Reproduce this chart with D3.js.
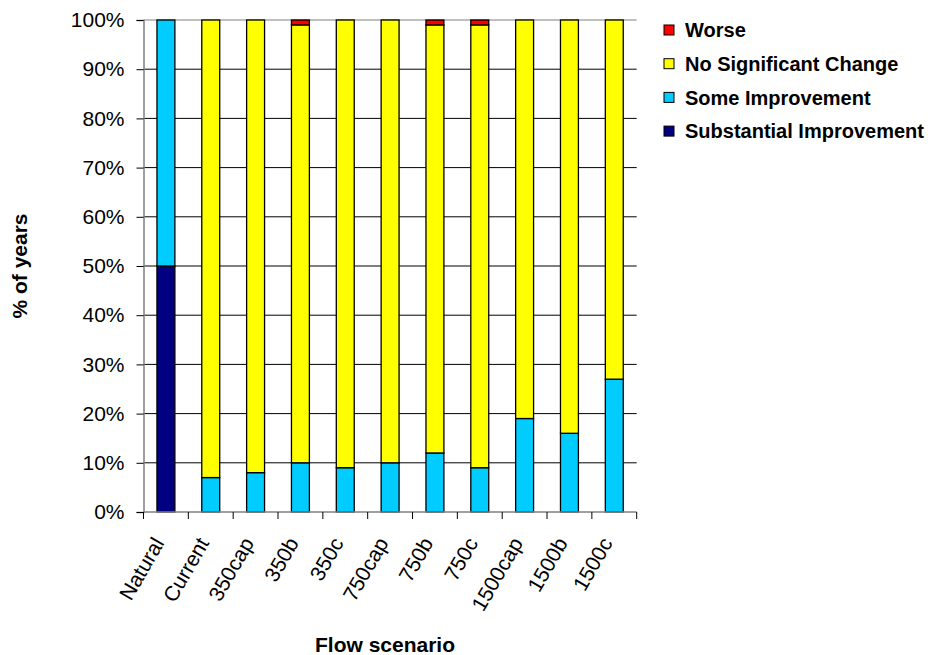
<!DOCTYPE html>
<html><head><meta charset="utf-8">
<script src="https://cdn.jsdelivr.net/npm/d3@7/dist/d3.min.js"></script>
<style>body{margin:0;background:#fff;font-family:"Liberation Sans",Arial,sans-serif;}</style>
</head><body><svg id="c" width="932" height="655"></svg>
<script>
const categories = ["Natural","Current","350cap","350b","350c","750cap","750b","750c","1500cap","1500b","1500c"];
const substantial = [50,0,0,0,0,0,0,0,0,0,0];
const some = [50,7,8,10,9,10,12,9,19,16,27];
const noChange = [0,93,92,89,91,90,87,90,81,84,73];
const worse = [0,0,0,1,0,0,1,1,0,0,0];
const yTicks = [0,10,20,30,40,50,60,70,80,90,100];
const seriesNames = ["Substantial Improvement","Some Improvement","No Significant Change","Worse"];
const seriesColors = ["#000080","#00CCFF","#FFFF00","#FF0000"];

const svg = d3.select("#c");
const m = {l:143.5, r:636.7, t:20, b:512};
const x = d3.scaleBand().domain(categories).range([m.l, m.r]).paddingInner(0).paddingOuter(0);
const y = d3.scaleLinear().domain([0,100]).range([m.b, m.t]);

// gridlines
svg.append("g").selectAll("line").data(yTicks.filter(d=>d>0)).join("line")
  .attr("x1", m.l).attr("x2", m.r).attr("y1", d=>y(d)).attr("y2", d=>y(d))
  .attr("stroke", d=> d===100 ? "#808080" : "#000").attr("stroke-width", 1);

// stacked data
const rows = categories.map((c,i)=>({cat:c, s0:substantial[i], s1:some[i], s2:noChange[i], s3:worse[i]}));
const stack = d3.stack().keys(["s0","s1","s2","s3"])(rows);
const bw = x.bandwidth()*0.4;
svg.append("g").selectAll("g").data(stack).join("g")
  .attr("fill", (d,i)=>seriesColors[i])
  .selectAll("rect").data(d=>d.filter(p=>p[1]-p[0]>0)).join("rect")
  .attr("x", d=>x(d.data.cat)+(x.bandwidth()-bw)/2)
  .attr("width", bw)
  .attr("y", d=>y(d[1]))
  .attr("height", d=>y(d[0])-y(d[1]))
  .attr("stroke","#000").attr("stroke-width",1.3);

// y axis
const ya = svg.append("g").attr("transform",`translate(${m.l},0)`)
  .call(d3.axisLeft(y).tickValues(yTicks).tickFormat(d=>d+"%").tickSize(7).tickPadding(12));
ya.select(".domain").attr("stroke","#808080").attr("stroke-width",1.5);
ya.selectAll(".tick line").attr("stroke","#000");
ya.selectAll("text").attr("font-size",21).attr("font-family","Liberation Sans, Arial, sans-serif").attr("fill","#000");

// x axis
const xa = svg.append("g").attr("transform",`translate(0,${m.b})`);
xa.append("line").attr("x1",m.l).attr("x2",m.r).attr("stroke","#808080").attr("stroke-width",1.5);
const bounds = categories.map(c=>x(c)).concat([m.r]);
xa.selectAll("line.tk").data(bounds).join("line").attr("class","tk")
  .attr("x1",d=>d).attr("x2",d=>d).attr("y1",0).attr("y2",7).attr("stroke","#000");
xa.selectAll("text").data(categories).join("text")
  .attr("transform", d=>`translate(${x(d)+x.bandwidth()/2-1},${31}) rotate(-60)`)
  .attr("text-anchor","end")
  .attr("font-size",21).attr("fill","#000").text(d=>d);

// axis titles
svg.append("text").attr("transform","translate(27,266) rotate(-90)").attr("text-anchor","middle")
  .attr("font-size",21).attr("font-weight","bold").text("% of years");
svg.append("text").attr("x",385).attr("y",652).attr("text-anchor","middle")
  .attr("font-size",21).attr("font-weight","bold").text("Flow scenario");

// legend
const legendOrder = [3,2,1,0];
const lg = svg.append("g").selectAll("g").data(legendOrder).join("g")
  .attr("transform",(d,i)=>`translate(664,${30+i*33.7})`);
lg.append("rect").attr("x",0).attr("y",-5).attr("width",10).attr("height",10)
  .attr("fill",d=>seriesColors[d]).attr("stroke","#000").attr("stroke-width",1);
lg.append("text").attr("x",21).attr("dy","0.36em").attr("font-size",20).attr("font-weight","bold")
  .text(d=>seriesNames[d]);
</script></body></html>
